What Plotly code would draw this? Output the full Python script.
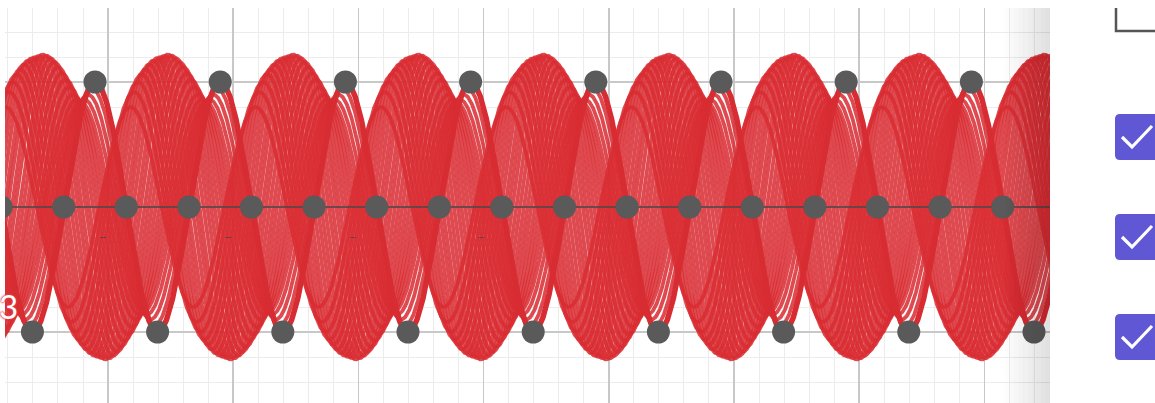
import numpy as np
import plotly.graph_objects as go

# ---- data ----
# family of sinusoids y = amp * cos(2*pi*(x - phase)), period = 1 major grid unit
phase = [0.18, 0.21, 0.24, 0.27, 0.30, 0.33, 0.36, 0.39, 0.42, 0.45, 0.48, 0.51,
         0.54, 0.57, 0.60, 0.63, 0.66, 0.69, 0.72, 0.75, 0.78, 0.81, 0.84, 0.87]
amp = [0.80, 0.92, 1.00, 1.06, 1.10, 1.14, 1.17, 1.19, 1.20, 1.21, 1.22, 1.21,
       1.19, 1.16, 1.12, 1.07, 1.02, 0.96, 0.90, 0.86, 0.84, 0.86, 0.90, 0.95]
main_phase = 0.896
main_amp = 1.0

# gray points on the main curve (quarter periods)
dot_x = [0.146, 0.396, 0.646, 0.896, 1.146, 1.396, 1.646, 1.896, 2.146, 2.396,
         2.646, 2.896, 3.146, 3.396, 3.646, 3.896, 4.146, 4.396, 4.646, 4.896,
         5.146, 5.396, 5.646, 5.896, 6.146, 6.396, 6.646, 6.896, 7.146, 7.396,
         7.646, 7.896, 8.146, 8.396]
dot_y = [0, -1, 0, 1, 0, -1, 0, 1, 0, -1, 0, 1, 0, -1, 0, 1, 0, -1, 0, 1,
         0, -1, 0, 1, 0, -1, 0, 1, 0, -1, 0, 1, 0, -1]

x_range = [0.177, 8.524]
y_range = [-1.568, 1.592]
dash_label_x = [0.96, 1.96, 2.96, 3.98]
side_label = "3"

# ---- figure ----
W, H = 1155, 403
L, R, T, B = 5, 1050, 8, 403  # plot area in pixels

def px(xp):
    return (xp - L) / (R - L)

def py(yp):
    return (B - yp) / (B - T)

xs = np.linspace(x_range[0] - 0.05, x_range[1] + 0.05, 2400)
fig = go.Figure()

for p, a in zip(phase, amp):
    fig.add_trace(go.Scatter(
        x=xs, y=a * np.cos(2 * np.pi * (xs - p)), mode="lines",
        line=dict(color="rgba(217,44,50,0.86)", width=3.8),
        hoverinfo="skip", showlegend=False))

fig.add_trace(go.Scatter(
    x=xs, y=main_amp * np.cos(2 * np.pi * (xs - main_phase)), mode="lines",
    line=dict(color="rgb(214,44,50)", width=5.5),
    hoverinfo="skip", showlegend=False))

# x-axis line (drawn above curves, below points)
fig.add_trace(go.Scatter(
    x=x_range, y=[0, 0], mode="lines",
    line=dict(color="#4a4a4a", width=1.6),
    hoverinfo="skip", showlegend=False))

fig.add_trace(go.Scatter(
    x=dot_x, y=dot_y, mode="markers",
    marker=dict(color="#5a5a5a", size=23, line=dict(width=0)),
    hoverinfo="skip", showlegend=False))

axis_common = dict(
    showticklabels=False, ticks="", zeroline=False, showline=False,
    showgrid=True, gridcolor="#c8c8c8", gridwidth=1.6, tick0=0, dtick=1,
    minor=dict(dtick=0.2, showgrid=True, gridcolor="#ececec", gridwidth=1),
    fixedrange=True,
)
fig.update_xaxes(range=x_range, **axis_common)
fig.update_yaxes(range=y_range, **axis_common)

shapes = []
# shadow at the right edge of the graph
n = 10
for i in range(n):
    x0 = 1005 + i * 4.5
    shapes.append(dict(type="rect", xref="paper", yref="paper",
                       x0=px(x0), x1=px(1050), y0=py(403), y1=py(8),
                       fillcolor="rgba(0,0,0,0.011)", line=dict(width=0),
                       layer="above"))

# top-right corner of an input box
shapes.append(dict(type="path", xref="paper", yref="paper",
                   path=f"M {px(1116)} {py(8)} L {px(1116)} {py(31)} L {px(1162)} {py(31)}",
                   line=dict(color="#555555", width=2.5)))

def rrect(x0, y0, x1, y1, r):
    pts = [
        ("M", x0 + r, y0), ("L", x1 - r, y0), ("Q", x1, y0, x1, y0 + r),
        ("L", x1, y1 - r), ("Q", x1, y1, x1 - r, y1), ("L", x0 + r, y1),
        ("Q", x0, y1, x0, y1 - r), ("L", x0, y0 + r), ("Q", x0, y0, x0 + r, y0),
    ]
    s = ""
    for c in pts:
        if c[0] in ("M", "L"):
            s += f"{c[0]} {px(c[1])},{py(c[2])} "
        else:
            s += f"Q {px(c[1])},{py(c[2])} {px(c[3])},{py(c[4])} "
    return s + "Z"

for top in [114, 214, 314]:
    shapes.append(dict(type="path", xref="paper", yref="paper",
                       path=rrect(1115, top, 1165, top + 46, 5),
                       fillcolor="#5f57d3", line=dict(width=0)))
    shapes.append(dict(type="path", xref="paper", yref="paper",
                       path=f"M {px(1122)},{py(top + 23)} L {px(1132)},{py(top + 33)} L {px(1152)},{py(top + 12)}",
                       line=dict(color="white", width=3.2)))

annotations = [dict(
    xref="paper", yref="paper", x=px(20), y=py(306), xanchor="right", yanchor="middle",
    text=side_label, showarrow=False,
    font=dict(size=33, color="#ffffff", family="Lato, Arial, sans-serif",
              shadow="0 0 2px #e04349, 0 0 2px #e04349, 0 0 3px #e04349"),
)]
for xv in dash_label_x:
    annotations.append(dict(
        x=xv, y=-0.24, xref="x", yref="y", text="−", showarrow=False,
        font=dict(size=13, color="rgba(70,70,70,0.75)", family="Arial")))

fig.update_layout(
    width=W, height=H,
    margin=dict(l=L, r=W - R, t=T, b=H - B, pad=0),
    paper_bgcolor="white", plot_bgcolor="white",
    shapes=shapes, annotations=annotations, showlegend=False,
)

fig.write_html("out.html", config={"displayModeBar": False, "staticPlot": True},
               post_script="document.body.style.margin='0';document.body.style.overflow='hidden';")
